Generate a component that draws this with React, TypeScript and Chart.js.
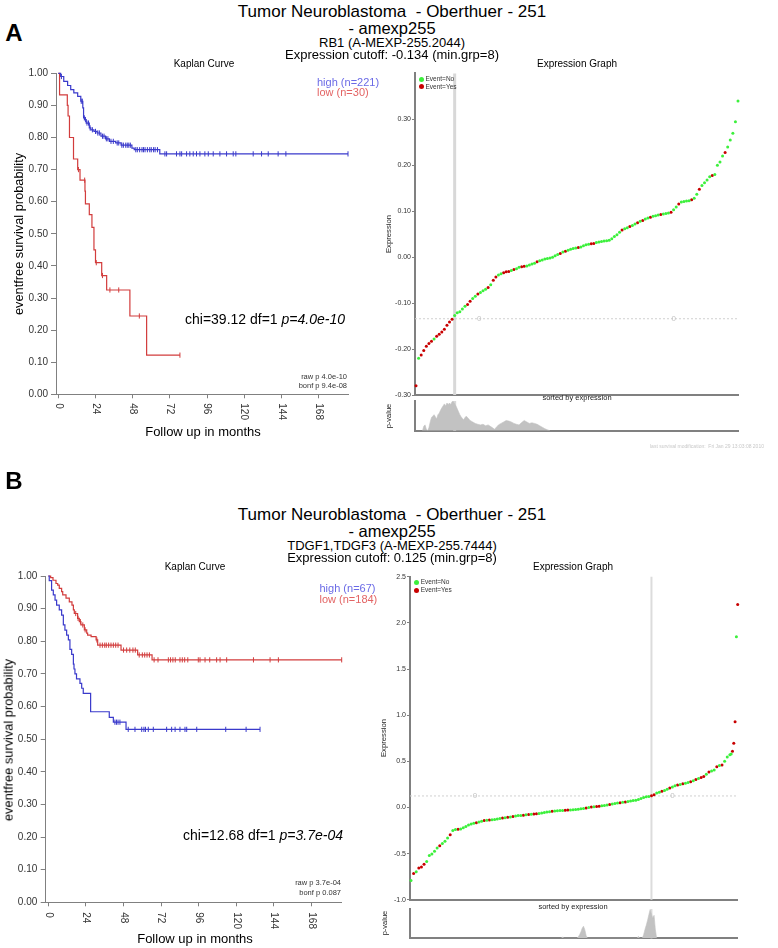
import React, { useEffect, useRef } from "react";
import { Chart, registerables } from "chart.js";
Chart.register(...registerables);

const FONT = '"Liberation Sans", Arial, Helvetica, sans-serif';

// ---------- shared ticks ----------
const kmXTicks = [0, 24, 48, 72, 96, 120, 144, 168];
const kmYTicks = [0, 0.1, 0.2, 0.3, 0.4, 0.5, 0.6, 0.7, 0.8, 0.9, 1.0];
const exprYTicksA = [-0.3, -0.2, -0.1, 0, 0.1, 0.2, 0.3];
const exprYTicksB = [-1.0, -0.5, 0, 0.5, 1.0, 1.5, 2.0, 2.5];
const zeroMarkIdx = [49, 200];

// ---------- Panel A : Kaplan-Meier ----------
const kmAHighT = [0, 1.5, 3.5, 6, 8, 10, 12.5, 14.5, 15.8, 16.3, 17, 18, 20, 21, 23, 25, 27.5, 30.5, 33, 37, 40.5, 47.5, 49, 65.5];
const kmAHighS = [1, 0.99, 0.975, 0.962, 0.949, 0.939, 0.928, 0.913, 0.892, 0.861, 0.856, 0.845, 0.83, 0.824, 0.819, 0.814, 0.804, 0.796, 0.788, 0.783, 0.776, 0.767, 0.762, 0.749];
const kmAHighEnd = 187;
const kmAHighCens = [2, 14.8, 15.5, 16.8, 17.5, 18.5, 19.5, 20.5, 22, 24, 25.5, 26.5, 28.5, 29.5, 31, 32, 34, 35.5, 38, 39, 41, 42, 43.5, 44.5, 45.5, 46.5, 50, 51, 52.5, 54, 55, 56, 57.5, 59, 60, 61.5, 62.5, 64, 68.8, 69.9, 76.3, 78.5, 79.6, 82.8, 84.9, 87.1, 89.2, 91.4, 94.6, 96.8, 100, 104.3, 108.6, 112.9, 114.6, 125.8, 131.2, 135.5, 141.9, 146.9, 187];
const kmALowT = [0, 0.8, 5.8, 6.3, 7.2, 9.8, 12.5, 14, 17.2, 17.5, 20, 21.7, 23, 24, 28, 31.2, 46.2, 57];
const kmALowS = [1, 0.933, 0.9, 0.867, 0.8, 0.733, 0.7, 0.667, 0.633, 0.593, 0.56, 0.52, 0.45, 0.41, 0.37, 0.325, 0.244, 0.122];
const kmALowEnd = 78.5;
const kmALowCens = [13, 17, 24.5, 28.5, 33.3, 39, 52.3, 78.5];

// ---------- Panel A : expression (every 2nd sorted sample, index 0..250) ----------
const exprAStep = 2;
const exprA = [
  -0.28, -0.22, -0.213, -0.203, -0.194, -0.188, -0.183, -0.178, -0.172, -0.168,
  -0.163, -0.157, -0.148, -0.141, -0.135, -0.127, -0.121, -0.119, -0.113, -0.107,
  -0.103, -0.096, -0.09, -0.085, -0.08, -0.077, -0.073, -0.07, -0.066, -0.06,
  -0.05, -0.043, -0.039, -0.036, -0.034, -0.032, -0.031, -0.029, -0.027, -0.025,
  -0.022, -0.021, -0.02, -0.019, -0.017, -0.015, -0.013, -0.01, -0.008, -0.006,
  -0.004, -0.003, -0.002, 0.0, 0.003, 0.006, 0.008, 0.011, 0.013, 0.015,
  0.017, 0.019, 0.02, 0.021, 0.022, 0.025, 0.027, 0.028, 0.029, 0.03,
  0.032, 0.033, 0.034, 0.035, 0.036, 0.037, 0.04, 0.045, 0.049, 0.054,
  0.059, 0.062, 0.064, 0.067, 0.069, 0.072, 0.075, 0.078, 0.08, 0.083,
  0.085, 0.087, 0.089, 0.09, 0.092, 0.093, 0.094, 0.095, 0.096, 0.098,
  0.103, 0.109, 0.116, 0.12, 0.121, 0.122, 0.123, 0.125, 0.128, 0.137,
  0.148, 0.156, 0.162, 0.168, 0.175, 0.178, 0.18, 0.2, 0.207, 0.22,
  0.228, 0.24, 0.255, 0.27, 0.295, 0.34,
];
const eventIdxA = [0, 4, 6, 8, 10, 12, 16, 18, 20, 22, 24, 26, 28, 40, 42, 48, 56, 60, 62, 68, 70, 72, 76, 82, 84, 94, 112, 116, 126, 136, 138, 160, 166, 172, 176, 182, 190, 198, 204, 214, 220, 230, 240];
const cutIdxA = 30;
const cutValA = -0.134;
const pvalA: [number, number][] = [
  [5, 0], [6, 0.15], [7, 0.2], [8, 0.05], [9, 0], [10, 0.1], [11, 0.3], [12, 0.45], [13, 0.5], [14, 0.55],
  [15, 0.48], [16, 0.4], [17, 0.55], [18, 0.6], [19, 0.7], [20, 0.78], [21, 0.85], [22, 0.92], [23, 0.85], [24, 0.95],
  [25, 0.9], [26, 0.95], [27, 0.9], [28, 1.0], [29, 1.0], [30, 0.92], [31, 0.85], [32, 0.75], [33, 0.65], [34, 0.55],
  [35, 0.48], [36, 0.42], [37, 0.38], [38, 0.45], [39, 0.5], [40, 0.45], [41, 0.4], [42, 0.35], [44, 0.3], [46, 0.25],
  [48, 0.22], [50, 0.2], [52, 0.22], [54, 0.17], [56, 0.2], [58, 0.14], [60, 0.08], [61, 0.05], [62, 0.1], [64, 0.2],
  [66, 0.25], [68, 0.3], [70, 0.35], [72, 0.33], [74, 0.3], [76, 0.25], [78, 0.22], [80, 0.2], [82, 0.28], [84, 0.35],
  [86, 0.3], [88, 0.25], [90, 0.27], [92, 0.25], [94, 0.22], [96, 0.17], [98, 0.12], [100, 0.07], [102, 0.03], [104, 0],
];

// ---------- Panel B : Kaplan-Meier ----------
const kmBHighT = [0, 0.6, 2.1, 3.2, 4.3, 5.3, 7, 8.5, 9.6, 10.6, 11.7, 12.8, 13.8, 14.9, 16, 16.4, 17, 18, 20.2, 21.3, 22.3, 27, 38.9, 41.5, 49.6];
const kmBHighS = [1, 0.986, 0.957, 0.942, 0.926, 0.911, 0.896, 0.88, 0.85, 0.834, 0.819, 0.804, 0.775, 0.76, 0.73, 0.715, 0.7, 0.685, 0.671, 0.656, 0.64, 0.584, 0.567, 0.552, 0.53];
const kmBHighEnd = 135.1;
const kmBHighCens = [42.5, 43.5, 44.5, 45.7, 51, 55.3, 59.6, 61, 62, 63.8, 67, 75.5, 78.7, 80.9, 84, 87.2, 88.3, 94.7, 113.2, 126.2, 135.1];
const kmBLowT = [0, 1.5, 3, 4.9, 6, 7, 8.5, 9.2, 11.3, 13.4, 15.1, 16, 16.6, 18.7, 19.8, 20.8, 23, 24.5, 25.1, 27.3, 30.5, 31.5, 46.4, 57, 66.2];
const kmBLowS = [1, 0.995, 0.987, 0.977, 0.972, 0.962, 0.952, 0.942, 0.932, 0.921, 0.911, 0.896, 0.885, 0.87, 0.86, 0.85, 0.835, 0.825, 0.819, 0.814, 0.804, 0.788, 0.773, 0.758, 0.743];
const kmBLowEnd = 187.2;
const kmBLowCens = [17.5, 19, 20.5, 22, 23.5, 31, 33, 34.5, 36, 37, 38.5, 40, 41.5, 43, 44.5, 48, 50, 52, 54, 55.5, 58, 60, 61.5, 63, 64.5, 67.5, 70, 76.6, 78, 79.5, 81, 84, 85.5, 87, 89, 95.7, 96.8, 100, 103, 107.4, 109.6, 113.8, 130.9, 141.5, 146.8, 187.2];

// ---------- Panel B : expression (every 2nd sample 0..244, then each sample 245..250) ----------
const exprBStep = 2;
const exprB = [
  -0.79, -0.715, -0.695, -0.655, -0.645, -0.615, -0.585, -0.52, -0.505, -0.475,
  -0.44, -0.415, -0.39, -0.365, -0.33, -0.295, -0.25, -0.238, -0.235, -0.232,
  -0.219, -0.205, -0.19, -0.18, -0.172, -0.165, -0.157, -0.148, -0.142, -0.139,
  -0.136, -0.133, -0.129, -0.124, -0.12, -0.114, -0.11, -0.106, -0.102, -0.097,
  -0.092, -0.088, -0.086, -0.083, -0.08, -0.077, -0.074, -0.071, -0.068, -0.064,
  -0.059, -0.054, -0.05, -0.046, -0.042, -0.038, -0.036, -0.034, -0.032, -0.03,
  -0.028, -0.026, -0.024, -0.022, -0.02, -0.015, -0.01, -0.005, 0.0, 0.004,
  0.008, 0.011, 0.014, 0.018, 0.022, 0.026, 0.032, 0.038, 0.044, 0.048,
  0.052, 0.056, 0.06, 0.064, 0.07, 0.075, 0.078, 0.087, 0.098, 0.108,
  0.115, 0.12, 0.127, 0.138, 0.157, 0.165, 0.175, 0.185, 0.198, 0.21,
  0.222, 0.235, 0.243, 0.25, 0.256, 0.262, 0.27, 0.278, 0.29, 0.303,
  0.315, 0.325, 0.335, 0.36, 0.385, 0.395, 0.405, 0.44, 0.456, 0.46,
  0.5, 0.548, 0.57,
];
const exprBTailStart = 245;
const exprBTail = [0.58, 0.61, 0.695, 0.93, 1.85, 2.2];
const eventIdxB = [2, 6, 8, 10, 22, 30, 36, 50, 56, 60, 70, 74, 78, 86, 90, 94, 96, 108, 118, 120, 134, 138, 142, 144, 152, 160, 164, 184, 186, 192, 198, 204, 208, 214, 218, 222, 224, 228, 234, 238, 246, 247, 248, 250];
const cutIdxB = 184;
const cutValB = 0.125;
const pvalB: [number, number][] = [
  [115, 0], [116, 0.05], [117, 0], [127, 0], [128, 0.05], [129, 0.12], [130, 0.22], [131, 0.35], [132, 0.42], [133, 0.3],
  [134, 0.1], [135, 0], [173, 0], [174, 0.07], [175, 0], [177, 0], [178, 0.12], [179, 0.3], [180, 0.45], [181, 0.62],
  [182, 0.82], [183, 1.0], [184, 0.85], [185, 0.7], [186, 0.8], [187, 0.3], [188, 0],
];

// ---------- helpers ----------
const stepAt = (T: number[], S: number[], t: number) => {
  let s = S[0];
  for (let i = 0; i < T.length; i++) if (T[i] <= t) s = S[i];
  return s;
};

const BLUE = "#3a3acb";
const RED = "#d23c3c";
const AXIS = "#808080";

const rotXLabels = {
  id: "rotX",
  afterDraw(chart: any, _a: any, o: any) {
    if (!o || !o.on) return;
    const s = chart.scales.x;
    const ctx = chart.ctx;
    ctx.save();
    ctx.font = `10px ${FONT}`;
    ctx.fillStyle = "#333";
    ctx.textAlign = "left";
    ctx.textBaseline = "middle";
    for (const t of s.ticks) {
      const x = s.getPixelForValue(t.value);
      ctx.save();
      ctx.translate(x, s.top + o.offset);
      ctx.rotate(Math.PI / 2);
      ctx.fillText(String(t.value), 0, 0);
      ctx.restore();
    }
    ctx.restore();
  },
};

const cutoffPlugin = {
  id: "cutoff",
  beforeDatasetsDraw(chart: any, _a: any, o: any) {
    if (!o || o.idx === undefined) return;
    const { ctx, chartArea: ca } = chart;
    const x = chart.scales.x;
    const y = chart.scales.y;
    ctx.save();
    const px = x.getPixelForValue(o.idx);
    ctx.strokeStyle = o.vColor;
    ctx.lineWidth = o.vWidth;
    ctx.beginPath();
    ctx.moveTo(px, ca.top);
    ctx.lineTo(px, ca.bottom);
    ctx.stroke();
    if (o.val !== undefined) {
      const py = y.getPixelForValue(o.val);
      ctx.setLineDash([2, 2]);
      ctx.strokeStyle = "#d0d0d0";
      ctx.lineWidth = 1;
      ctx.beginPath();
      ctx.moveTo(ca.left, py);
      ctx.lineTo(ca.right, py);
      ctx.stroke();
      ctx.setLineDash([]);
      ctx.font = `8px ${FONT}`;
      ctx.textAlign = "center";
      ctx.textBaseline = "middle";
      ctx.fillStyle = "#c4c4c4";
      for (const li of o.labels) ctx.fillText("0", x.getPixelForValue(li), py);
    }
    ctx.restore();
  },
};

function kmConfig(k: any) {
  const curve = (T: number[], S: number[], end: number, color: string) => ({
    type: "line",
    data: [...T.map((t, i) => ({ x: t, y: S[i] })), { x: end, y: S[S.length - 1] }],
    borderColor: color,
    borderWidth: 1.2,
    pointRadius: 0,
    stepped: "before",
    fill: false,
    clip: false,
  });
  const cens = (C: number[], T: number[], S: number[], color: string) => ({
    type: "line",
    data: C.map((t) => ({ x: t, y: stepAt(T, S, t) })),
    showLine: false,
    pointStyle: "line",
    pointRotation: 90,
    pointRadius: 2.6,
    pointBorderWidth: 1,
    pointBorderColor: color,
    borderColor: color,
    clip: false,
  });
  return {
    type: "line",
    data: {
      datasets: [
        curve(k.highT, k.highS, k.highEnd, BLUE),
        cens(k.highC, k.highT, k.highS, BLUE),
        curve(k.lowT, k.lowS, k.lowEnd, RED),
        cens(k.lowC, k.lowT, k.lowS, RED),
      ],
    },
    options: {
      animation: false,
      responsive: false,
      events: [],
      layout: { padding: { top: k.padTop, right: k.padRight, left: 0, bottom: 0 } },
      plugins: { legend: { display: false }, tooltip: { enabled: false }, rotX: { on: true, offset: k.labOff } },
      scales: {
        x: {
          type: "linear",
          min: k.xMin,
          max: k.xMax,
          afterBuildTicks: (s: any) => { s.ticks = kmXTicks.map((v) => ({ value: v })); },
          afterFit: (s: any) => { s.height = k.xH; },
          ticks: { display: false },
          grid: { display: true, drawOnChartArea: false, drawTicks: true, tickLength: 4, color: AXIS },
          border: { display: true, color: AXIS, width: 1 },
        },
        y: {
          type: "linear",
          min: 0,
          max: 1,
          afterBuildTicks: (s: any) => { s.ticks = kmYTicks.map((v) => ({ value: v })); },
          afterFit: (s: any) => { s.width = k.yW; },
          ticks: { callback: (v: number) => Number(v).toFixed(2), font: { size: 10, family: FONT }, color: "#333", padding: k.yPad },
          grid: { display: true, drawOnChartArea: false, drawTicks: true, tickLength: 5, color: AXIS },
          border: { display: true, color: AXIS, width: 1 },
        },
      },
    },
    plugins: [rotXLabels],
  };
}

function exprConfig(e: any) {
  const green = e.points.filter((p: any) => !e.events.includes(p.x));
  const red = e.points.filter((p: any) => e.events.includes(p.x));
  return {
    type: "scatter",
    data: {
      datasets: [
        { data: green, pointRadius: 1.5, pointBackgroundColor: "#3cf03c", pointBorderWidth: 0, clip: false },
        { data: red, pointRadius: 1.5, pointBackgroundColor: "#c80000", pointBorderWidth: 0, clip: false },
      ],
    },
    options: {
      animation: false,
      responsive: false,
      events: [],
      layout: { padding: { top: e.padTop, right: e.padRight, left: 0, bottom: 0 } },
      plugins: {
        legend: { display: false },
        tooltip: { enabled: false },
        cutoff: { idx: e.cutIdx, val: e.cutVal, labels: zeroMarkIdx, vColor: e.vColor, vWidth: e.vWidth },
      },
      scales: {
        x: {
          type: "linear",
          min: e.xMin,
          max: 250,
          afterFit: (s: any) => { s.height = e.xH; },
          ticks: { display: false },
          grid: { display: false },
          border: { display: true, color: AXIS, width: 2 },
        },
        y: {
          type: "linear",
          min: e.yMin,
          max: e.yMax,
          afterBuildTicks: (s: any) => { s.ticks = e.yTicks.map((v: number) => ({ value: v })); },
          afterFit: (s: any) => { s.width = e.yW; },
          ticks: { callback: (v: number) => Number(v).toFixed(e.dec), font: { size: 7, family: FONT }, color: "#333", padding: 1 },
          grid: { display: true, drawOnChartArea: false, drawTicks: true, tickLength: 3, color: AXIS },
          border: { display: true, color: AXIS, width: 2 },
        },
      },
    },
    plugins: [cutoffPlugin],
  };
}

function pvalConfig(p: any) {
  return {
    type: "line",
    data: {
      datasets: [
        {
          data: p.data.map(([i, v]: [number, number]) => ({ x: i, y: v })),
          borderColor: "#c2c2c2",
          backgroundColor: "#c2c2c2",
          borderWidth: 0.6,
          pointRadius: 0,
          fill: "origin",
          tension: 0,
        },
      ],
    },
    options: {
      animation: false,
      responsive: false,
      events: [],
      layout: { padding: { top: p.padTop, right: p.padRight, left: 0, bottom: 0 } },
      plugins: { legend: { display: false }, tooltip: { enabled: false }, cutoff: { idx: p.cutIdx, vColor: p.vColor, vWidth: p.vWidth } },
      scales: {
        x: {
          type: "linear",
          min: p.xMin,
          max: 250,
          afterFit: (s: any) => { s.height = p.xH; },
          ticks: { display: false },
          grid: { display: false },
          border: { display: true, color: AXIS, width: 2 },
        },
        y: {
          type: "linear",
          min: 0,
          max: 1.02,
          afterFit: (s: any) => { s.width = p.yW; },
          ticks: { display: false },
          grid: { display: false },
          border: { display: true, color: AXIS, width: 2 },
        },
      },
    },
    plugins: [cutoffPlugin],
  };
}

function ChartBox({ left, top, width, height, make }: any) {
  const ref = useRef<HTMLCanvasElement>(null);
  useEffect(() => {
    const c = new Chart(ref.current as HTMLCanvasElement, make() as any);
    return () => c.destroy();
  }, []);
  return <canvas ref={ref} width={width} height={height} style={{ position: "absolute", left, top, width, height }} />;
}

function Txt({ x, y, s, t, a = "c", c = "#000", r = false, b = false }: any) {
  const tx = a === "l" ? "0" : a === "r" ? "-100%" : "-50%";
  return (
    <div
      style={{
        position: "absolute",
        left: x,
        top: y,
        fontSize: s,
        lineHeight: 1,
        whiteSpace: "pre",
        color: c,
        fontFamily: FONT,
        fontWeight: b ? "bold" : "normal",
        transform: `translate(${tx},-50%)${r ? " rotate(-90deg)" : ""}`,
      }}
    >
      {t}
    </div>
  );
}

function Dot({ x, y, c }: any) {
  return <div style={{ position: "absolute", left: x - 2.5, top: y - 2.5, width: 5, height: 5, borderRadius: "50%", background: c }} />;
}

const pointsA = exprA.map((v, k) => ({ x: k * exprAStep, y: v }));
const pointsB = [
  ...exprB.map((v, k) => ({ x: k * exprBStep, y: v })),
  ...exprBTail.map((v, k) => ({ x: exprBTailStart + k, y: v })),
];

export default function App() {
  return (
    <div style={{ position: "absolute", left: 0, top: 0, width: 778, height: 948, background: "#fff", overflow: "hidden" }}>
      {/* ===== Panel A ===== */}
      <ChartBox left={0} top={58} width={380} height={390} make={() => kmConfig({
        highT: kmAHighT, highS: kmAHighS, highEnd: kmAHighEnd, highC: kmAHighCens,
        lowT: kmALowT, lowS: kmALowS, lowEnd: kmALowEnd, lowC: kmALowCens,
        xMin: -1.5, xMax: 187, yW: 56, xH: 53.7, padTop: 15.3, padRight: 32, yPad: 3, labOff: 9,
      })} />
      <ChartBox left={380} top={58} width={398} height={345} make={() => exprConfig({
        points: pointsA, events: eventIdxA, cutIdx: cutIdxA, cutVal: cutValA, vColor: "#d8d8d8", vWidth: 3,
        xMin: -0.8, yMin: -0.3, yMax: 0.4, yTicks: exprYTicksA, dec: 2, yW: 35, xH: 8, padTop: 15.4, padRight: 40,
      })} />
      <ChartBox left={380} top={396} width={398} height={40} make={() => pvalConfig({
        data: pvalA, cutIdx: cutIdxA, vColor: "#d8d8d8", vWidth: 3, xMin: -0.8, yW: 35, xH: 5.3, padTop: 5, padRight: 40,
      })} />

      <Txt x={14} y={33} s={24} b t="A" />
      <Txt x={392} y={11} s={17} t="Tumor Neuroblastoma  - Oberthuer - 251" />
      <Txt x={392} y={27.5} s={16.5} t="- amexp255" />
      <Txt x={392} y={42} s={13} t="RB1 (A-MEXP-255.2044)" />
      <Txt x={392} y={53.5} s={13} t="Expression cutoff: -0.134 (min.grp=8)" />
      <Txt x={204} y={63.5} s={10} t="Kaplan Curve" />
      <Txt x={577} y={63.5} s={10} t="Expression Graph" />
      <Txt x={19} y={234} s={12.8} r t="eventfree survival probability" />
      <Txt x={203} y={431} s={13} t="Follow up in months" />
      <Txt x={317} y={82} s={11} a="l" c="#6a6ae6" t="high (n=221)" />
      <Txt x={317} y={92} s={11} a="l" c="#e36464" t="low (n=30)" />
      <Txt x={345} y={319} s={14} a="r" t={<span>chi=39.12 df=1 <i>p=4.0e-10</i></span>} />
      <Txt x={347} y={377} s={7.5} a="r" c="#333" t="raw p 4.0e-10" />
      <Txt x={347} y={386} s={7.5} a="r" c="#333" t="bonf p 9.4e-08" />
      <Txt x={388.5} y={234} s={7.7} r t="Expression" c="#222" />
      <Dot x={421.7} y={79} c="#3cf03c" />
      <Dot x={421.7} y={86.7} c="#c80000" />
      <Txt x={425.5} y={79} s={6.5} a="l" c="#333" t="Event=No" />
      <Txt x={425.5} y={86.7} s={6.5} a="l" c="#333" t="Event=Yes" />
      <Txt x={577} y={398.3} s={7.5} c="#222" t="sorted by expression" />
      <Txt x={389} y={415.5} s={7.5} r c="#222" t="p-value" />
      <Txt x={650} y={446} s={5} a="l" c="#c8c8c8" t="last survival modification:  Fri Jan 29 13:03:08 2010" />

      {/* ===== Panel B ===== */}
      <ChartBox left={0} top={560} width={380} height={388} make={() => kmConfig({
        highT: kmBHighT, highS: kmBHighS, highEnd: kmBHighEnd, highC: kmBHighCens,
        lowT: kmBLowT, lowS: kmBLowS, lowEnd: kmBLowEnd, lowC: kmBLowCens,
        xMin: -1.66, xMax: 187.2, yW: 45.7, xH: 45.7, padTop: 16, padRight: 38.3, yPad: 3.4, labOff: 10,
      })} />
      <ChartBox left={380} top={560} width={398} height={345} make={() => exprConfig({
        points: pointsB, events: eventIdxB, cutIdx: cutIdxB, cutVal: cutValB, vColor: "#dcdcdc", vWidth: 2,
        xMin: -0.76, yMin: -1.0, yMax: 2.5, yTicks: exprYTicksB, dec: 1, yW: 30, xH: 3.3, padTop: 16.7, padRight: 40.3,
      })} />
      <ChartBox left={380} top={904} width={398} height={40} make={() => pvalConfig({
        data: pvalB, cutIdx: cutIdxB, vColor: "#dcdcdc", vWidth: 2, xMin: -0.76, yW: 30, xH: 5.7, padTop: 5, padRight: 40.3,
      })} />

      <Txt x={14} y={481} s={24} b t="B" />
      <Txt x={392} y={514} s={17} t="Tumor Neuroblastoma  - Oberthuer - 251" />
      <Txt x={392} y={530.5} s={16.5} t="- amexp255" />
      <Txt x={392} y={545} s={13} t="TDGF1,TDGF3 (A-MEXP-255.7444)" />
      <Txt x={392} y={556.5} s={13} t="Expression cutoff: 0.125 (min.grp=8)" />
      <Txt x={195} y={566.5} s={10} t="Kaplan Curve" />
      <Txt x={573} y={566.5} s={10} t="Expression Graph" />
      <Txt x={9} y={740} s={12.8} r t="eventfree survival probability" />
      <Txt x={195} y={938} s={13} t="Follow up in months" />
      <Txt x={319.5} y={588} s={11} a="l" c="#6a6ae6" t="high (n=67)" />
      <Txt x={319.5} y={599} s={11} a="l" c="#e36464" t="low (n=184)" />
      <Txt x={343} y={835} s={14} a="r" t={<span>chi=12.68 df=1 <i>p=3.7e-04</i></span>} />
      <Txt x={341} y={883.3} s={7.5} a="r" c="#333" t="raw p 3.7e-04" />
      <Txt x={341} y={892.7} s={7.5} a="r" c="#333" t="bonf p 0.087" />
      <Txt x={383.5} y={738} s={7.7} r t="Expression" c="#222" />
      <Dot x={416.7} y={582.3} c="#3cf03c" />
      <Dot x={416.7} y={590} c="#c80000" />
      <Txt x={420.7} y={582.3} s={6.5} a="l" c="#333" t="Event=No" />
      <Txt x={420.7} y={590} s={6.5} a="l" c="#333" t="Event=Yes" />
      <Txt x={573} y={906.7} s={7.5} c="#222" t="sorted by expression" />
      <Txt x={385} y={923} s={7.5} r c="#222" t="p-value" />
    </div>
  );
}
